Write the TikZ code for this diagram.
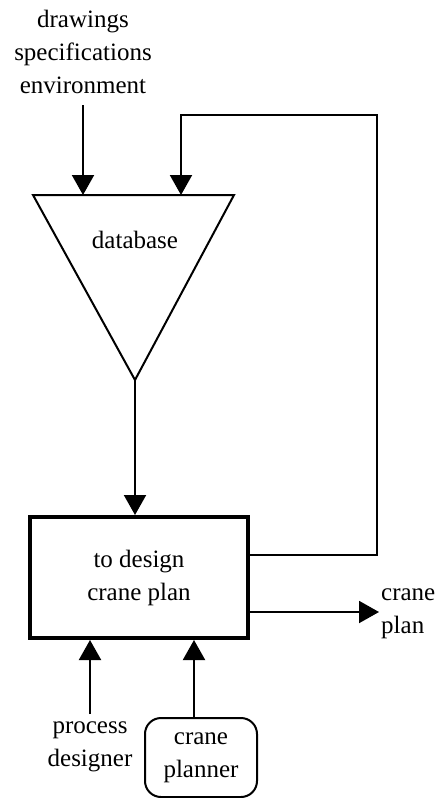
\documentclass[tikz,border=0pt]{standalone}
\usepackage{fontspec}
\setmainfont{Liberation Serif}
\usetikzlibrary{arrows.meta}
\begin{document}
\begin{tikzpicture}[x=1pt,y=-1pt,
  lbl/.style={font=\fontsize{25}{33}\selectfont, align=center, inner sep=0pt},
  conn/.style={line width=2pt},
  arr/.style={conn, -{Triangle[length=20pt,width=22pt]}},
  procbox/.style={draw, line width=4pt, minimum width=218pt, minimum height=121pt, lbl},
  actor/.style={draw, line width=2pt, rounded corners=16pt, minimum width=112pt, minimum height=79pt, lbl}]
\useasboundingbox (0,0) rectangle (438,798);
% input text
\node[lbl] (inp) at (83,52) {drawings\\specifications\\environment};
% database triangle
\coordinate (tl) at (33,195);
\coordinate (tr) at (234,195);
\coordinate (apex) at (135,380);
\draw[conn, line join=miter] (tl) -- (tr) -- (apex) -- cycle;
\node[lbl] (db) at (135,240) {database};
\coordinate (in1) at (83,105);
\coordinate (db1) at (83,195);
\coordinate (db2) at (181,195);
% process box
\node[procbox] (box) at (139,577.5) {to design\\crane plan};
% arrows
\draw[arr] (in1) -- (db1);
\draw[arr] (apex) -- (box.north -| apex);
\coordinate (fbR) at (377,115);
\draw[arr] (box.east |- 0,555) -| (fbR) -| (db2);
\node[lbl, anchor=west, align=left] (out) at (381,614) {crane\\plan};
\draw[arr] (box.east |- 0,612) -- (379,612);
% bottom
\node[lbl] (pd) at (90,747) {process\\designer};
\node[actor] (cp) at (201,757.5) {crane\\planner};
\draw[arr] (90,714) -- (90,640);
\draw[arr] (cp.north -| 194,0) -- (194,640);
\end{tikzpicture}
\end{document}
